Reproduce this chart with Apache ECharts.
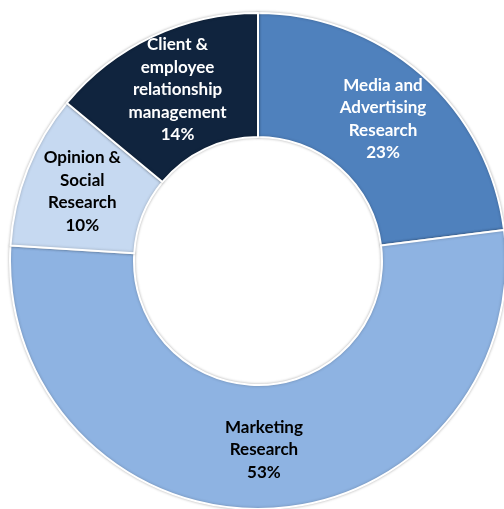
<!DOCTYPE html>
<html>
<head>
<meta charset="utf-8">
<script src="https://cdn.jsdelivr.net/npm/echarts@6/dist/echarts.min.js"></script>
<style>
  html, body { margin: 0; padding: 0; background: #ffffff; }
  #chart { width: 504px; height: 509px; }
</style>
</head>
<body>
<div id="chart"></div>
<script>
// Share of revenue by research segment (percent), clockwise from 12 o'clock
const categories = [
  'Media and\nAdvertising\nResearch',
  'Marketing\nResearch',
  'Opinion &\nSocial\nResearch',
  'Client &\nemployee\nrelationship\nmanagement'
];
const shares = [23, 53, 10, 14];
const sliceColors = ['#4F81BD', '#8EB3E2', '#C6D9F1', '#10243E'];
const labelColors = ['#ffffff', '#000000', '#000000', '#ffffff'];

const chart = echarts.init(document.getElementById('chart'), null, { renderer: 'canvas' });

chart.setOption({
  animation: false,
  backgroundColor: '#ffffff',
  series: [{
    type: 'pie',
    center: [258, 261],
    radius: [124, 248],
    startAngle: 90,
    clockwise: true,
    avoidLabelOverlap: false,
    itemStyle: {
      borderColor: '#ffffff',
      borderWidth: 2,
      shadowBlur: 3,
      shadowColor: 'rgba(0,0,0,0.25)'
    },
    label: {
      show: true,
      position: 'inside',
      fontFamily: 'Lato',
      fontWeight: 'bold',
      fontSize: 17,
      lineHeight: 22.5,
      align: 'center',
      formatter: p => p.name + '\n' + p.value + '%'
    },
    labelLine: { show: false },
    emphasis: { disabled: true },
    data: categories.map((name, i) => ({
      name: name,
      value: shares[i],
      itemStyle: { color: sliceColors[i] },
      label: { color: labelColors[i] }
    }))
  }]
});
</script>
</body>
</html>
